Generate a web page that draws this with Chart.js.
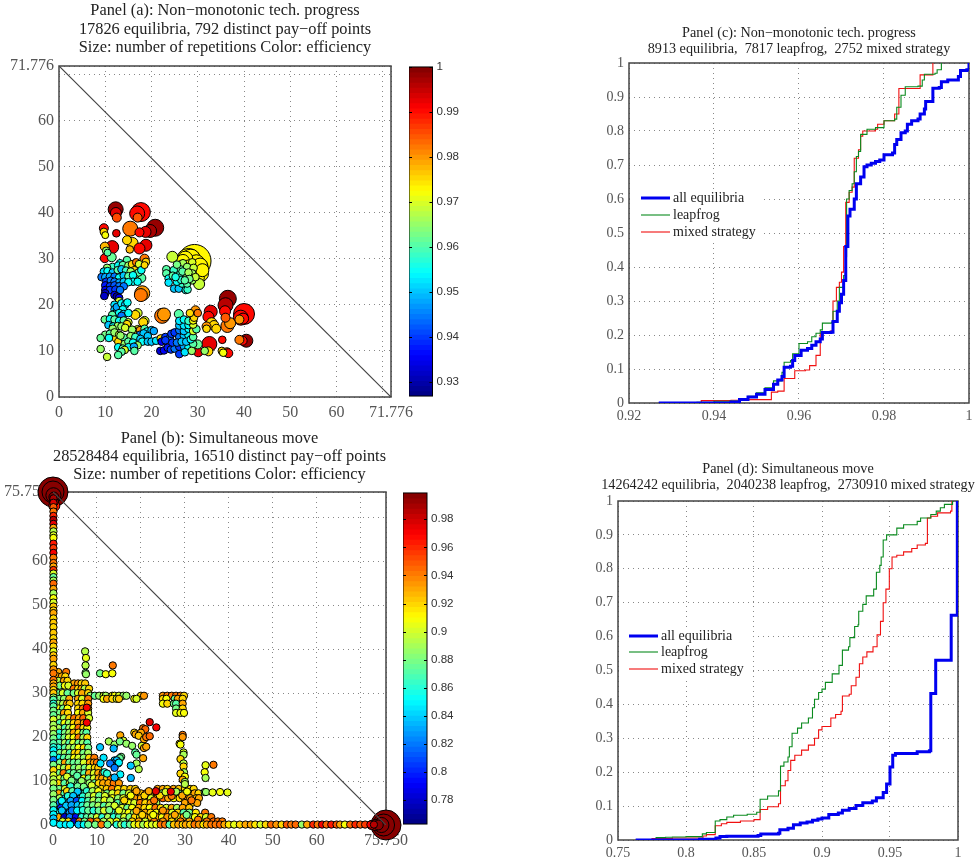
<!DOCTYPE html>
<html>
<head>
<meta charset="utf-8">
<title>Panels</title>
<script src="https://cdn.jsdelivr.net/npm/chart.js@4/dist/chart.umd.min.js"></script>
<style>
html, body { margin: 0; padding: 0; background: #fff; width: 977px; height: 860px; overflow: hidden; }
canvas { position: absolute; }
</style>
</head>
<body>
<script>
// panel (a): [payoff 1, payoff 2, repetitions, efficiency]
const aTopGroup = [
  [12.25,40.7,49,.998],[12.3,39.9,25,.993],[12.5,38.9,16,.986],[17.7,40.1,81,.99],[16.9,39.8,49,.99],[17,38.9,16,.985],
  [20.8,36.7,64,.998],[19.7,36,36,.997],[18.7,35.8,25,.993],[17.4,35.7,16,.99],[15.4,36.5,49,.982],[12.4,35.5,11,.992],
  [9.7,36.6,16,.99],[9.7,35.8,11,.975],[10,35.1,9,.972],[9.9,32.6,16,.978],[11.5,32.5,36,.993],[10.2,31.7,11,.965],
  [10.5,31.3,9,.96],[9.9,30.1,16,.99],[11.4,30.3,16,.962],[14.7,34,16,.975],[15.9,33.4,25,.975],[15.3,32,11,.978],
  [18.8,32.9,30,.993],[17.4,32.2,25,.99],[18.5,30,16,.982],[18.8,29.3,11,.975],[18.5,28.6,9,.975]
];
const aYellowGroup = [
  [29.3,29.5,256,.973],[28,29.5,144,.973],[27.5,29,100,.973],[30,28,100,.973],[30.5,26.8,64,.973],[29.8,25.9,49,.973],
  [28.5,30,81,.973],[29.7,29,64,.973],[30.5,28.5,49,.973],[31,27.5,36,.973],[27.3,30,49,.973],[26.8,29.5,36,.973],[28,28.3,36,.973],
  [27,28.7,64,.973],[26.5,28.2,36,.972],[24.5,30.4,25,.968],[30.3,24.5,25,.968],[26.8,29,11,.966],[28.8,29.2,11,.97],
  [27.7,28.2,11,.965],[29.1,28,11,.968],[23.2,27.7,11,.96],[23.2,26.8,11,.96],[23.7,25.7,11,.955],[23.7,24.8,11,.952],
  [24.9,23.5,11,.95],[25.9,23.5,11,.95],[27.4,23.2,11,.955],[27.8,23.3,11,.958],[26.2,27.7,11,.96],[27,26.8,11,.962],
  [27.7,26.1,11,.965],[28.8,26.8,11,.966],[25.9,26.4,11,.958],[26.6,24.6,11,.958],[27.7,24.6,11,.96],[28.8,25.3,11,.965],
  [29.5,26,11,.968],[25.5,25,11,.955],[24.8,27.5,11,.958],[24.6,26.3,11,.96],[25.5,28.7,11,.963],[26.7,27.2,11,.96],
  [28,27,11,.966],[26.4,25.4,11,.957],[28.2,25.6,11,.963],[27.2,25.3,11,.96],[25.2,26,11,.956]
];
const aLeftGroup = [
  [14.7,29.7,11,.96],[13.2,29,11,.955],[11.6,28.2,11,.958],[10.4,28,11,.965],[12.8,28.5,11,.955],[13.8,28.6,11,.96],
  [15,28.5,11,.965],[15.8,28.8,11,.975],[16.7,29.2,11,.982],[17.3,28.8,11,.97],[16.3,27.5,11,.975],[9.7,27.2,11,.953],
  [10.5,27.3,11,.955],[11.6,27,11,.95],[12.7,27.5,11,.96],[13.5,27.7,11,.95],[14.5,27.4,11,.958],[15.5,27.2,11,.965],
  [16.5,26.5,11,.965],[17.2,27,11,.96],[17.8,27.5,11,.955],[9.2,26,11,.945],[10,26,11,.948],[11,26.1,11,.948],
  [12,26.1,11,.945],[13,25.9,11,.955],[14,26.3,11,.95],[15,26.2,11,.96],[16,26.4,11,.955],[17.8,25.8,16,.96],
  [16,25,11,.955],[17,25,11,.955],[10.2,25,11,.94],[11.2,25.2,11,.945],[12,25,11,.945],[13,24.8,11,.948],[14,25,11,.95],
  [15,24.9,11,.955],[10,24.2,11,.938],[11,24,11,.94],[12,24.2,11,.942],[13,24,11,.945],[14,24,11,.945],[10,23.2,11,.935],
  [11,23.2,11,.94],[12.2,23.3,11,.94],[13.2,23.2,11,.945],[10,22.5,11,.932],[9.8,21.9,11,.932],[12,22.1,11,.935],
  [12.5,21.8,11,.93],[13,21.5,11,.935],[13,20.8,11,.97],[18,22.5,49,.98],[17.7,22.1,36,.982]
];
const aLowLeftGroup = [
  [12,20,11,.952],[12,19,11,.95],[12.5,19.5,11,.948],[13.5,20.3,11,.955],[14.3,20,11,.95],[14.8,20.5,11,.955],
  [13.8,19,11,.955],[12,18,11,.95],[13,18.2,11,.955],[14,18,11,.95],[15,18.2,11,.955],[11.5,17.8,11,.96],[13.5,17.6,11,.945],
  [17,18.2,16,.97],[16.5,17.8,16,.975],[9.9,16.8,11,.962],[11,16.9,11,.955],[12,16.8,11,.96],[13,16.5,11,.955],
  [14,16.6,11,.96],[15,16.2,11,.97],[14.7,15.8,11,.975],[18.5,16.5,16,.97],[18.2,16.2,16,.975],[10.7,15.6,11,.95],
  [11.7,15.3,11,.955],[12.7,15.4,11,.965],[13.5,15.3,11,.965],[14.3,15,11,.97],[11.6,14.8,11,.965],[17,14.7,11,.97],
  [16.5,14.2,11,.975],[17.5,14.5,11,.98],[15.8,14.6,11,.965],[18.5,14.8,11,.96],[19,14.2,11,.955],[20,14.5,11,.95],
  [20.5,14.3,11,.948],[17.5,13.5,11,.945],[18.3,13.8,11,.95],[19.2,13.2,11,.95],[10,13.5,11,.963],[11,13.7,11,.96],
  [12,14,11,.965],[13,13.5,11,.968],[14,12.9,11,.96],[15.5,13.2,11,.965],[16.5,13,11,.958],[17.6,12.6,11,.95],[18,12,11,.955],
  [19.2,12,11,.95],[20,12,11,.95],[21,12.2,11,.952],[9,12.8,11,.962],[10.8,12.8,11,.955],[12.5,12.7,16,.975],[13,12,16,.975],
  [13.3,13.3,11,.965],[14.2,11.5,11,.965],[15,12,11,.96],[16,11.8,11,.955],[17,11.2,11,.965],[12.8,10.8,11,.955],
  [13.8,10.5,11,.96],[15,10.8,11,.955],[16.2,10.9,11,.948],[14.2,10.2,11,.97],[16.3,10,11,.96],[13.5,9.8,11,.96],
  [12.8,9.1,11,.96],[9,10.4,11,.965],[10.4,8.7,11,.968]
];
const aLowRightGroup = [
  [22,12.7,11,.975],[23,13,11,.94],[24,12.8,11,.945],[22.2,12,11,.935],[23,12.3,11,.94],[24.3,13.7,11,.94],[25,14,11,.94],
  [26,13,11,.945],[27,13.3,11,.95],[28,13.4,11,.955],[21.9,10,11,.933],[22.7,10.1,11,.935],[23.5,10.7,11,.938],
  [24.2,10.3,11,.94],[25,10.5,11,.945],[26,10.9,11,.94],[27,11,11,.948],[28,10.8,11,.955],[29,11.5,11,.96],[26,9.3,11,.94],
  [27.2,9.7,11,.952],[28.7,10,11,.965],[24.5,11.8,11,.94],[25.5,11.8,11,.945],[26.5,12,11,.95],[27.5,12,11,.95],
  [28.5,12.5,11,.955],[29,13,11,.96],[26,14.5,11,.945],[27,14.3,11,.95],[28,14.8,11,.955],[29,14.3,11,.97],[29.7,14.7,11,.96],
  [26,15.5,11,.95],[27,15.5,11,.953],[28,15.6,11,.955],[29,15.7,11,.97],[26,16.5,11,.953],[27,16.8,11,.955],[28,16.5,11,.958],
  [29,16.6,11,.972],[29.2,17.2,11,.975],[25.9,18,16,.96],[28.3,18.2,11,.975],[29.5,18.8,16,.98],[30,18.2,11,.982],
  [22.3,17.6,49,.982],[22.7,17.9,36,.98]
];
const aRightGroup = [
  [32.8,18.5,36,.992],[32.3,17.4,25,.99],[36.5,21.3,64,.998],[36,19.9,49,.996],[35.9,18.6,25,.99],[36,17.2,16,.985],
  [36.4,15.4,36,.982],[37,16,25,.98],[40,18,100,.99],[39.3,17.2,49,.99],[39.8,17,25,.99],[39,16.8,16,.98],[33,16,25,.975],
  [33.5,15.5,20,.975],[31.9,15.3,16,.98],[31.9,14.8,11,.975],[34,14.8,16,.975],[35.3,12.4,11,.99],[40.5,12.2,36,.998],
  [39.7,12.2,16,.99],[39,12.4,16,.982],[32.5,11.5,49,.992],[30.1,9.8,20,.992],[30,11.4,16,.962],[31.5,10,11,.965],
  [32.3,9.9,16,.975],[35.2,10,11,.975],[35.5,9.6,11,.972],[36.3,9.7,16,.985],[36.6,9.5,16,.99]
];

// panel (b): points on the two axes, [position, efficiency]
const bLeftAxis = [
  [74.3,.99],[73.3,.98],[72.3,.95],[71.3,.94],[70.3,.96],[69.4,.985],[68.5,.975],[67.6,.93],[66.8,.895],[65.9,.9],[65.3,.91],
  [64,.965],[63,.955],[61.9,.97],[60.8,.94],[59.6,.94],[58.8,.93],[58,.955],[57.2,.9],[56.4,.875],[55.6,.89],[54.9,.945],[53.7,.93],
  [52.7,.89],[51.6,.91],[50.6,.9],[49.7,.925],[48.8,.92],[48.2,.93],[47,.92],[46,.925],[45,.92],[43.7,.925],[42.5,.92],[41.5,.93],
  [40.6,.92],[39.5,.905],[38.6,.925],[37.8,.93],[36.4,.92],[35.4,.935],[34.5,.94],[33,.94],[32.2,.93],[31.5,.93],[30.7,.92],[30,.925],
  [29,.89],[28.5,.87],[27.6,.86],[27,.87],[26,.88],[25,.875],[24,.9],[22.8,.89],[21.8,.895],[20.7,.885],[19.7,.88],[18.6,.87],
  [17.7,.86],[17,.85],[16,.86],[14.8,.82],[13.7,.88],[12.5,.92],[11.3,.9],[10.4,.895],[9.5,.895],[8.3,.88],[7,.885],[5.7,.88],
  [4.5,.87],[3.4,.855],[2.4,.85],[1.5,.84],[.5,.85]
];
const bBottomAxis = [
  [1.6,.85],[2.9,.85],[3.9,.85],[5.8,.84],[7,.855],[8,.875],[9.6,.88],[11,.94],[12.4,.875],[14.5,.86],[15.5,.89],[16.3,.86],
  [17.5,.875],[18.5,.905],[19.5,.915],[20.5,.89],[21.5,.91],[22.5,.9],[23.5,.905],[24.5,.94],[25.5,.94],[26.5,.87],[27.5,.925],
  [28.5,.93],[29.5,.92],[30.2,.93],[31.2,.925],[32.2,.94],[33.2,.935],[34.2,.915],[35,.93],[36,.94],[37,.94],[38,.945],
  [39,.93],[40,.915],[41.2,.905],[42.5,.92],[43.8,.93],[45,.93],[46,.915],[47.2,.9],[48.4,.92],[49.6,.945],[50.8,.935],
  [52,.92],[53.2,.95],[54.2,.94],[55.2,.945],[56.6,.885],[57.8,.93],[59.2,.96],[60.2,.94],[61.2,.97],[62.2,.945],[63.3,.965],
  [64.5,.95],[65.3,.93],[66.4,.91],[67.6,.945],[68.8,.96],[69.9,.95],[71,.955],[72.2,.97],[73,.985]
];
const bCornerPoints = [
  [0,75.75,210,.9987],[0,75.75,110,.9987],[.1,75,50,.9987],[.2,74.6,20,.9987],[.2,73.5,16,.99],[.3,72.6,25,.965],
  [75.75,0,210,.9987],[75.2,0,110,.9987],[74.7,0,50,.9987],[74,0,20,.9987],[73.3,0,25,.99],[72.4,0,16,.97]
];
// upper stray points and the small blocks away from the main mass
const bIslands = [
  [7.3,39.5,.895],[7.5,38,.905],[7.4,36.3,.895],[7.4,34.6,.88],[7.5,34.3,.885],[10.7,34.5,.88],[12,34.3,.91],[13.5,34.5,.91],[13.6,36.3,.94],
  [22,23.4,.975],[23.5,22.2,.97],[20.5,22,.94],[21,21.8,.945],[18.5,21,.92],[18.8,20.6,.93],[20,21,.93],[19.5,20.3,.925],[20.7,19.5,.93],
  [21.2,20,.94],[22,20.2,.945],[15.3,20.4,.93],[16,19.2,.9],[12.7,19,.89],[14,18.3,.885],[15.2,19,.88],[16.7,18.5,.885],[18,18,.885],
  [20.2,18,.9],[20.7,17.5,.93],[21.2,17.8,.93],[10.7,17.7,.84],[13.8,17.4,.835],[18.7,16.5,.87],[19,16,.875],[15.5,15.5,.88],[15,15,.88],
  [15.2,15.2,.875],[11.5,15.3,.845],[14,14.7,.84],[14.5,14.7,.84],[13.7,14,.82],[14.8,14,.83],[15,14.2,.85],[13,14,.82],[10.8,14,.845],
  [20.5,15.2,.93],[19,14,.89],[17.7,13.5,.84],[19.5,12.7,.895],[14,13,.82],[11.7,12,.86],[12.3,11.7,.86],[15.3,11.5,.85],[14,10.8,.835],[17.7,10.7,.835],
  [29.5,20.5,.94],[29.5,20,.935],[28.8,18.5,.915],[29,18.3,.91],[29.7,16.5,.9],[29.7,16,.89],[29,15,.92],[29.7,14,.895],[29.7,13.3,.92],
  [29.8,12,.89],[29,11.7,.92],[30,11,.91],[29.5,10.3,.93],[30,9.8,.89],[30,9.3,.895],[34.7,13.6,.905],[34.5,12,.91],[34.7,10.7,.89],[36.5,13.7,.94],
  [34.5,7.5,.88],[34.8,7.5,.885],[36.3,7.4,.905],[38,7.5,.91],[39.7,7.4,.905]
];
// main mass, row by row: [y, x, efficiency, x, efficiency, ...]
const bRows = [
  [34.8, 1.2,.93, 3,.94],
  [33.8, 1,.93, 2,.93, 2.8,.92],
  [32.8, 1.2,.895, 2.5,.93, 3.3,.92],
  [32.2, 4.8,.93, 5.7,.935, 6.5,.92, 7.3,.925],
  [31.7, 1.5,.88, 2.7,.91, 3.5,.9],
  [31, 4.7,.94, 5.7,.92, 6.5,.93, 7.2,.895, 8.2,.92],
  [30, 1.1,.875, 2.2,.9, 3.3,.875, 4.7,.88, 5.7,.9, 6.6,.93, 8,.92],
  [29.4, 8.5,.885, 9.5,.875, 10.5,.885, 11.5,.9, 12,.89, 13.5,.91, 14,.91, 15,.9, 16,.885, 16.7,.885, 20,.92, 20.7,.935, 25,.935, 26,.94, 27,.94, 28,.94, 29,.94, 29.8,.92],
  [28.7, 1.4,.88, 2.5,.885, 3.7,.93, 5.7,.93, 6.6,.9, 8,.94, 11.5,.91, 12.3,.93, 13.5,.92, 14.5,.9, 15,.925, 18.5,.91, 19,.9, 25,.92, 25.8,.91, 27.7,.875, 28.4,.93, 29.5,.92],
  [27.6, 1.2,.89, 2.3,.895, 3.2,.93, 3.8,.925, 5.7,.92, 6.7,.92, 8,.935, 25,.91, 26,.92, 27.5,.88, 28,.87, 29.5,.93],
  [26.5, 1.2,.91, 2.3,.88, 3.3,.91, 5.7,.92, 6.8,.94, 8,.92, 28,.88, 29.5,.92],
  [25.5, 1.3,.88, 2.5,.93, 3.4,.92, 5.7,.91, 6.8,.93, 8,.9, 28,.905, 29,.91, 29.8,.91],
  [24.3, 1.2,.89, 2.5,.89, 3.7,.92, 4.8,.94, 5.9,.93, 6.9,.945, 8.2,.9],
  [23.2, 1.5,.87, 2.6,.91, 3.6,.89, 4.7,.92, 5.7,.93, 7,.93],
  [22.1, 1.2,.89, 2.7,.87, 3.7,.89, 4.6,.91, 5.8,.945, 6.9,.92, 7.8,.91],
  [21, 1.4,.86, 2.7,.88, 3.7,.89, 4.7,.93, 5.8,.92, 6.9,.88, 7.6,.87],
  [19.9, 1.3,.86, 2.6,.88, 3.6,.9, 4.7,.91, 5.8,.94, 6.9,.89, 7.8,.92],
  [18.7, 1.4,.87, 2.7,.89, 3.7,.87, 4.6,.9, 5.8,.88, 6.8,.885, 7.8,.87],
  [17.6, 1.2,.86, 2.7,.87, 3.7,.89, 4.8,.885, 5.8,.91, 7,.92, 8,.88],
  [16.4, 1.5,.88, 2.7,.89, 3.8,.87, 4.9,.92, 5.8,.92, 6.9,.88, 8,.89],
  [15.3, 1.3,.85, 2.5,.87, 3.6,.88, 4.8,.91, 5.8,.9, 7,.885, 8.2,.92, 9.4,.94],
  [14.2, 1.5,.88, 2.7,.93, 3.7,.88, 4.7,.875, 5.8,.88, 7,.9, 8.4,.93, 9.3,.93, 10,.94],
  [13, 1.2,.9, 2.5,.89, 3.6,.92, 4.8,.88, 5.9,.89, 7.2,.88, 8.3,.9, 9.5,.92, 10.3,.925],
  [11.8, 1.3,.88, 2.4,.94, 3.7,.87, 4.7,.875, 6,.88, 7.1,.87, 8.2,.93, 9.3,.9, 10.3,.93, 11.3,.94],
  [10.6, 1.5,.9, 2.6,.88, 3.8,.875, 5,.9, 6,.87, 7,.91, 8.1,.88, 9.3,.9, 10.4,.93, 11.2,.93, 12.3,.92, 13.2,.94, 14.2,.93],
  [9.5, 1.2,.92, 2.6,.87, 3.8,.9, 5,.88, 6.1,.86, 7.2,.89, 8.3,.885, 9.4,.875, 10.4,.92, 11.4,.93, 12.6,.93, 13.8,.94, 15,.935],
  [8.2, 1.4,.88, 2.7,.9, 3.9,.85, 5,.87, 6.2,.86, 7.2,.88, 8.4,.91, 9.6,.89, 11,.92, 12.2,.925, 13.4,.94, 14.8,.92, 16.2,.92, 17.6,.925, 18.7,.92, 23.8,.93, 25,.93, 26,.92, 27.4,.93, 28.6,.925, 30,.92, 31.2,.92, 32,.92],
  [7.2, 1.3,.93, 2.6,.87, 3.7,.85, 5,.84, 6,.85, 7.2,.86, 8.5,.88, 9.7,.9, 11,.905, 12.3,.88, 13.5,.9, 14.8,.92, 16,.88, 17.3,.9, 18.6,.93, 20,.925, 21.2,.94, 22.4,.92, 23.6,.94, 24.8,.885, 26,.88, 27.4,.89, 28.6,.88, 30,.885, 31,.9, 32.2,.93, 33.1,.92],
  [6.1, 1.5,.89, 2.8,.84, 4,.85, 5.2,.82, 6.3,.84, 7.5,.87, 8.7,.9, 9.8,.89, 11.1,.87, 12.3,.91, 13.5,.91, 14.8,.885, 16,.905, 17.3,.92, 18.5,.935, 20,.93, 21,.925, 22.3,.9, 23.7,.93, 25,.945, 26.2,.93, 27.5,.91, 28.8,.92, 30,.94, 31.2,.93, 32.6,.925, 33.2,.93],
  [5, 1.3,.82, 2.2,.83, 3.5,.84, 4.7,.86, 6,.85, 7.2,.88, 8.5,.86, 9.7,.87, 11,.89, 12.2,.875, 13.5,.9, 14.7,.87, 16,.88, 17.2,.91, 18.5,.9, 19.8,.94, 21,.92, 22.2,.93, 23.5,.89, 30,.93, 31.5,.92, 32.8,.93],
  [3.9, 1.8,.8, 3.5,.81, 4.8,.84, 6,.87, 7.1,.85, 8.3,.87, 9.6,.89, 10.8,.86, 12,.88, 13.2,.9, 14.5,.875, 15.7,.9, 16.9,.88, 18,.91, 19.5,.93, 20.8,.92, 22,.91, 23.3,.94, 24.5,.92, 25.8,.9, 27,.93, 28.2,.89, 29.5,.93, 31,.925],
  [2.8, 1.2,.86, 2.5,.79, 3.8,.83, 5,.86, 6.2,.85, 7.5,.88, 8.7,.85, 9.9,.87, 11.1,.9, 12.4,.88, 13.6,.86, 14.8,.875, 16,.9, 17.2,.91, 18.4,.89, 19.6,.92, 21,.93, 22.2,.92, 23.5,.91, 24.8,.93, 26,.94, 27.1,.9, 28.4,.92, 29.7,.87, 31,.88, 32.5,.915, 34.6,.94],
  [1.8, 1.2,.93, 2.6,.78, 3.8,.82, 5.2,.79, 6.5,.86, 7.7,.87, 8.8,.88, 10,.9, 11.2,.86, 12.5,.89, 13.8,.86, 15,.87, 16.2,.9, 17.4,.88, 18.6,.92, 19.8,.91, 21,.93, 22.3,.925, 23.5,.93, 24.8,.91, 26,.935, 27.1,.92, 28.4,.91, 29.7,.93, 31,.88, 32.3,.91, 33.6,.92, 34.8,.9, 36,.94],
  [.8, 2.2,.9, 3.5,.92, 4.8,.78, 6,.94, 7.2,.88, 8.5,.95, 10,.93, 11.5,.89, 13,.9, 14.5,.91, 16,.89, 18,.92, 19.5,.93, 21,.9, 23,.94, 25,.935, 27,.92, 29,.94, 31,.93, 33,.92, 35,.94, 36.5,.945, 37.5,.94, 38.5,.94]
];
// overlapping dots in the darkest part of the mass, drawn on top of the rows
const bDense = [
  [3.2,11,.9],[4.2,10.1,.88],[5.5,11.2,.87],[6.5,10,.885],[4,8.8,.86],[5.6,8.8,.875],[7,8.7,.88],[8.8,9,.9],[3.2,7.7,.92],[4.4,7.7,.87],
  [5.6,7.6,.84],[7.7,7.7,.86],[9,7.7,.89],[10.3,7.7,.91],[3.4,6.6,.86],[4.6,6.6,.84],[6.8,6.5,.86],[8.1,6.6,.88],[9.3,6.6,.9],[10.5,6.7,.875],
  [11.8,6.6,.9],[2,5.5,.85],[4,5.5,.83],[5.4,5.5,.81],[6.6,5.5,.85],[8,5.5,.87],[9.2,5.6,.895],[10.4,5.5,.88],[11.7,5.6,.905],[13,5.6,.89],
  [3,4.4,.84],[4.2,4.5,.83],[5.6,4.5,.84],[6.7,4.4,.86],[7.8,4.5,.875],[9.1,4.5,.88],[10.3,4.4,.89],[11.6,4.4,.87],[12.8,4.4,.89],[14,4.4,.9],
  [2,3.3,.84],[4.3,3.3,.82],[5.5,3.3,.85],[6.8,3.4,.86],[8,3.3,.875],[9.2,3.3,.86],[10.4,3.3,.875],[11.6,3.3,.9],[12.8,3.4,.88],[15,3.3,.905],
  [16.2,5.6,.92],[17.7,6.7,.91],[19,7.7,.93],[20.8,6.7,.92],[21.8,7.7,.93],[23,5.6,.94],[24.3,6.7,.92],[25.6,7.5,.9],[27,6.6,.94],[28,7.6,.89],
  [29.4,6.7,.93],[30.5,7.6,.91],[31.5,5.6,.94],[19,3.2,.93],[20.3,2.3,.92],[22.8,2.3,.91],[25,3.3,.935],[27.7,2.3,.93],[30.4,2.3,.88],[33,1.2,.94]
];
// red dots printed over the rest
const bRedDots = [[7.7,26.7,.97],[7.7,23.3,.97],[23.4,7.7,.975],[26.8,7.6,.975]];

// panel (c): [efficiency, share] at each jump
const cAll = [
  [.927,0],[.944,.003],[.946,.01],[.948,.018],[.95,.026],[.952,.04],[.954,.055],[.955,.068],[.956,.078],[.9565,.105],[.958,.108],
  [.9585,.125],[.959,.14],[.9605,.155],[.962,.16],[.963,.17],[.964,.18],[.965,.188],[.9655,.207],[.9675,.208],[.968,.24],[.969,.27],
  [.9695,.295],[.97,.32],[.9705,.36],[.971,.46],[.9715,.55],[.972,.57],[.973,.6],[.9735,.645],[.9745,.665],[.9753,.695],[.976,.7],
  [.977,.705],[.978,.71],[.979,.715],[.98,.73],[.982,.735],[.9825,.76],[.983,.775],[.984,.795],[.985,.8],[.9855,.82],[.9865,.83],
  [.988,.835],[.9885,.85],[.9895,.865],[.9898,.887],[.9915,.926],[.993,.928],[.9935,.945],[.995,.95],[.9975,.96],[.998,.978],[.9995,.98],[1,1]
];
const cLeapfrog = [
  [.927,0],[.936,.002],[.94,.005],[.944,.006],[.946,.012],[.948,.02],[.95,.03],[.952,.045],[.954,.065],[.956,.09],[.9565,.12],[.958,.125],
  [.9585,.145],[.96,.175],[.962,.18],[.963,.195],[.964,.205],[.965,.215],[.9655,.235],[.9677,.238],[.968,.27],[.969,.3],[.9695,.34],
  [.9705,.375],[.971,.43],[.9712,.6],[.9718,.625],[.9725,.645],[.973,.68],[.9735,.725],[.974,.74],[.9745,.79],[.976,.805],[.978,.81],
  [.98,.83],[.9825,.835],[.983,.87],[.984,.905],[.985,.93],[.988,.932],[.989,.95],[.9895,.967],[.992,.97],[.9925,.98],[.9935,1]
];
const cMixed = [
  [.927,0],[.936,.001],[.937,.007],[.944,.008],[.946,.01],[.9525,.01],[.9535,.032],[.955,.035],[.9565,.072],[.959,.095],[.9615,.097],
  [.9625,.11],[.964,.14],[.965,.205],[.9655,.21],[.9675,.212],[.968,.3],[.9688,.34],[.9695,.355],[.97,.385],[.9705,.46],[.971,.59],
  [.9718,.62],[.9725,.635],[.973,.72],[.974,.745],[.9745,.785],[.975,.8],[.978,.805],[.9785,.82],[.98,.83],[.9825,.85],[.9835,.925],
  [.9885,.965],[.9915,1]
];
// panel (d)
const dAll = [
  [.763,0],[.81,.002],[.822,.006],[.825,.01],[.83,.011],[.853,.013],[.855,.018],[.868,.02],[.869,.03],[.875,.035],[.879,.045],[.884,.05],
  [.889,.053],[.893,.058],[.897,.062],[.9,.065],[.905,.075],[.912,.08],[.915,.088],[.92,.093],[.925,.102],[.93,.11],[.937,.115],[.94,.125],
  [.945,.14],[.9475,.165],[.95,.215],[.952,.25],[.954,.255],[.97,.26],[.979,.263],[.98,.432],[.9836,.53],[.995,.663],[.9995,1]
];
const dLeapfrog = [
  [.763,0],[.778,.007],[.785,.008],[.79,.009],[.8,.01],[.812,.018],[.815,.022],[.8215,.056],[.825,.06],[.83,.068],[.835,.073],[.845,.076],
  [.852,.082],[.8545,.12],[.86,.13],[.868,.145],[.8695,.218],[.872,.23],[.875,.245],[.876,.275],[.878,.315],[.882,.33],[.885,.345],[.89,.36],
  [.893,.39],[.8945,.415],[.8975,.435],[.9,.445],[.9025,.465],[.9075,.49],[.9125,.515],[.915,.56],[.9195,.57],[.9205,.597],[.924,.63],
  [.9265,.635],[.927,.675],[.93,.695],[.9325,.72],[.938,.74],[.94,.79],[.9425,.81],[.9435,.835],[.945,.885],[.9475,.9],[.955,.92],[.96,.93],
  [.97,.94],[.9725,.95],[.98,.96],[.984,.97],[.987,.98],[.99,.99],[.996,1]
];
const dMixed = [
  [.763,0],[.775,.004],[.79,.006],[.8125,.012],[.815,.016],[.8215,.042],[.826,.048],[.83,.052],[.84,.056],[.85,.06],[.8545,.09],[.86,.098],
  [.868,.107],[.8695,.16],[.873,.175],[.875,.205],[.877,.235],[.88,.25],[.885,.265],[.89,.28],[.8945,.3],[.8975,.325],[.9,.335],[.9065,.36],
  [.91,.37],[.914,.38],[.915,.425],[.92,.43],[.9215,.455],[.925,.48],[.9275,.52],[.93,.54],[.933,.555],[.9375,.57],[.9405,.605],[.943,.645],
  [.945,.7],[.947,.74],[.9495,.8],[.9515,.835],[.955,.84],[.96,.85],[.966,.86],[.97,.87],[.976,.875],[.9775,.95],[.98,.955],[.985,.965],
  [.9945,.97],[.9955,1]
];

const aMax = 71.776;
const bMax = 75.75;
const aTicks = [0,10,20,30,40,50,60,70,71.776];
const bTicks = [0,10,20,30,40,50,60,70,75.75];
const aBarTicks = [.93,.94,.95,.96,.97,.98,.99,1];
const bBarTicks = [.78,.8,.82,.84,.86,.88,.9,.92,.94,.96,.98];
const aEffRange = [.9268,1];
const bEffRange = [.763,.9987];
const shareTicks = [0,.1,.2,.3,.4,.5,.6,.7,.8,.9,1];
const cEffTicks = [.92,.94,.96,.98,1];
const dEffTicks = [.75,.8,.85,.9,.95,1];
const legendNames = ['all equilibria','leapfrog','mixed strategy'];

const SERIF = '"Liberation Serif", "Times New Roman", serif';
const BLUE = '#0000f0', GREEN = '#0a8a1e', RED = '#f01010';

// matlab jet with 64 bands
function jet(t) {
  const i = Math.min(63, Math.max(0, Math.floor(t * 64)));
  const v = (i + 0.5) / 64;
  const c = k => Math.round(255 * Math.min(1, Math.max(0, 1.5 - Math.abs(4 * v - k))));
  return 'rgb(' + c(3) + ',' + c(2) + ',' + c(1) + ')';
}

const plotFrame = {
  id: 'plotFrame',
  afterLayout(chart) {
    // titles may be wider than the plot, let them use the whole canvas
    chart.titleBlock.left = 0;
    chart.titleBlock.right = chart.width;
    chart.titleBlock.width = chart.width;
  },
  beforeDatasetsDraw(chart) {
    const a = chart.chartArea, ctx = chart.ctx;
    ctx.save();
    ctx.strokeStyle = '#444';
    ctx.lineWidth = 1.5;
    ctx.strokeRect(a.left, a.top, a.right - a.left, a.bottom - a.top);
    ctx.restore();
  }
};

const lineLegend = {
  id: 'lineLegend',
  beforeDatasetsDraw(chart, args, opts) {
    // the legend box hides the grid behind it
    const b = opts.box;
    chart.ctx.save();
    chart.ctx.fillStyle = '#fff';
    chart.ctx.fillRect(b[0], b[1], b[2], b[3]);
    chart.ctx.restore();
  },
  afterDraw(chart, args, opts) {
    const ctx = chart.ctx;
    ctx.save();
    ctx.font = '14px ' + SERIF;
    ctx.textBaseline = 'middle';
    ctx.fillStyle = '#222';
    opts.names.forEach((name, i) => {
      ctx.beginPath();
      ctx.moveTo(opts.x, opts.y[i]);
      ctx.lineTo(opts.x + 29, opts.y[i]);
      ctx.strokeStyle = opts.colors[i];
      ctx.lineWidth = opts.widths[i];
      ctx.stroke();
      ctx.fillText(name, opts.x + 32, opts.y[i]);
    });
    ctx.restore();
  }
};

const barTickMarks = {
  id: 'barTickMarks',
  afterDraw(chart) {
    const a = chart.chartArea, ctx = chart.ctx, y = chart.scales.y;
    ctx.save();
    ctx.strokeStyle = '#000';
    ctx.lineWidth = 1;
    ctx.strokeRect(a.left, a.top, a.right - a.left, a.bottom - a.top);
    y.ticks.forEach(t => {
      const p = Math.round(y.getPixelForValue(t.value)) + 0.5;
      ctx.beginPath();
      ctx.moveTo(a.left, p); ctx.lineTo(a.left + 3, p);
      ctx.moveTo(a.right, p); ctx.lineTo(a.right - 3, p);
      ctx.stroke();
    });
    ctx.restore();
  }
};

function makeCanvas(box) {
  const c = document.createElement('canvas');
  c.width = box.w;
  c.height = box.h;
  c.style.left = box.x + 'px';
  c.style.top = box.y + 'px';
  c.style.width = box.w + 'px';
  c.style.height = box.h + 'px';
  document.body.appendChild(c);
  return c;
}

function axisOptions(list, labelOf, fontSize, fixedSize, isX, min, max, gap) {
  return {
    type: 'linear',
    min: min,
    max: max,
    afterBuildTicks(s) { s.ticks = list.map(v => ({ value: v })); },
    afterFit(s) {
      if (isX) s.height = fixedSize; else s.width = fixedSize;
    },
    grid: { color: '#888', lineWidth: 1, drawTicks: false },
    border: { display: false, dash: [1, 4] },
    ticks: {
      autoSkip: false,
      maxRotation: 0,
      padding: isX ? gap : 5,
      color: '#555',
      font: { family: SERIF, size: fontSize },
      callback: labelOf
    }
  };
}

function titleOptions(lines, fontSize, spacing, topGap, plotGap) {
  return {
    display: true,
    fullSize: false,
    text: lines,
    color: '#222',
    font: { family: SERIF, size: fontSize, weight: 'normal', lineHeight: spacing / fontSize },
    padding: { top: topGap, bottom: plotGap - topGap - lines.length * spacing }
  };
}

function scatterPanel(box, plot, lines, fontSize, spacing, topGap, points, max, range, ticks, diag) {
  const sorted = points.slice().sort((p, q) => q[2] - p[2]);
  const label = v => (v === 70 ? '' : (v === max ? max.toFixed(3) : String(v)));
  new Chart(makeCanvas(box), {
    type: 'bubble',
    data: {
      datasets: [
        {
          type: 'line',
          data: diag.map(p => ({ x: p[0], y: p[1] })),
          borderColor: '#444',
          borderWidth: 1.2,
          pointRadius: 0,
          order: 0
        },
        {
          data: sorted.map(p => ({ x: p[0], y: p[1], r: Math.sqrt(p[2]) + 0.5 })),
          backgroundColor: sorted.map(p => jet((p[3] - range[0]) / (range[1] - range[0]))),
          borderColor: '#000',
          borderWidth: 1,
          clip: false,
          order: 1
        }
      ]
    },
    options: {
      responsive: false,
      animation: false,
      events: [],
      layout: { padding: { left: 0, top: 0, bottom: 0, right: box.x + box.w - plot.r } },
      plugins: {
        legend: { display: false },
        tooltip: { enabled: false },
        title: titleOptions(lines, fontSize, spacing, topGap, plot.t - box.y)
      },
      scales: {
        x: axisOptions(ticks, label, 16, box.y + box.h - plot.b, true, 0, max, 6),
        y: axisOptions(ticks, label, 16, plot.l - box.x, false, 0, max)
      }
    },
    plugins: [plotFrame]
  });
}

function colorBar(plot, range, ticks) {
  const box = { x: plot.l, y: plot.t - 10, w: 70, h: plot.b - plot.t + 20 };
  const sets = [];
  for (let i = 0; i < 64; i++) {
    const lo = range[0] + i * (range[1] - range[0]) / 64;
    sets.push({ data: [[lo, range[1]]], backgroundColor: jet((i + 0.5) / 64), grouped: false, barPercentage: 1, categoryPercentage: 1, borderWidth: 0, order: 64 - i });
  }
  new Chart(makeCanvas(box), {
    type: 'bar',
    data: { labels: [''], datasets: sets },
    options: {
      responsive: false,
      animation: false,
      events: [],
      layout: { padding: { top: 10, bottom: 10, left: 0, right: 0 } },
      plugins: { legend: { display: false }, tooltip: { enabled: false } },
      scales: {
        x: { display: false },
        y: {
          type: 'linear',
          position: 'right',
          min: range[0],
          max: range[1],
          afterBuildTicks(s) { s.ticks = ticks.map(v => ({ value: v })); },
          afterFit(s) { s.width = box.w - (plot.r - plot.l); },
          grid: { display: false, drawTicks: false },
          border: { display: false },
          ticks: {
            padding: 4,
            color: '#333',
            font: { family: '"Liberation Sans", Arial, sans-serif', size: 11.6 },
            callback: v => String(v)
          }
        }
      }
    },
    plugins: [barTickMarks]
  });
}

function cdfPanel(box, plot, lines, fontSize, spacing, topGap, series, xTicks, xMin, legend) {
  const colors = [BLUE, GREEN, RED];
  const widths = [3, 1.1, 1.1];
  new Chart(makeCanvas(box), {
    type: 'line',
    data: {
      datasets: series.map((s, i) => ({
        label: legendNames[i],
        data: s.map(p => ({ x: p[0], y: p[1] })),
        borderColor: colors[i],
        borderWidth: widths[i],
        pointRadius: 0,
        stepped: true
      }))
    },
    options: {
      responsive: false,
      animation: false,
      events: [],
      layout: { padding: { left: 0, top: 0, bottom: 0, right: box.x + box.w - plot.r } },
      plugins: {
        legend: { display: false },
        tooltip: { enabled: false },
        title: titleOptions(lines, fontSize, spacing, topGap, plot.t - box.y),
        lineLegend: {
          names: legendNames, colors: colors, widths: widths,
          x: legend.x - box.x, y: legend.y.map(v => v - box.y),
          box: [plot.l - box.x + 1, legend.y[0] - box.y - 9, legend.w, legend.y[2] - legend.y[0] + 18]
        }
      },
      scales: {
        x: axisOptions(xTicks, v => String(v), 14, box.y + box.h - plot.b, true, xMin, 1, 5),
        y: axisOptions(shareTicks, v => String(v), 14, plot.l - box.x, false, 0, 1)
      }
    },
    plugins: [plotFrame, lineLegend]
  });
}

const aPoints = [].concat(aTopGroup, aYellowGroup, aLeftGroup, aLowLeftGroup, aLowRightGroup, aRightGroup);

const bPoints = [];
bRows.forEach(row => {
  for (let i = 1; i < row.length; i += 2) bPoints.push([row[i], row[0], 10, row[i + 1]]);
});
bDense.forEach(p => bPoints.push([p[0], p[1], 10, p[2]]));
bIslands.forEach(p => bPoints.push([p[0], p[1], 10, p[2]]));
bLeftAxis.forEach(p => bPoints.push([.1, p[0], 10, p[1]]));
bBottomAxis.forEach(p => bPoints.push([p[0], .1, 10, p[1]]));
bRedDots.forEach(p => bPoints.push([p[0], p[1], 10, p[2]]));
bCornerPoints.forEach(p => bPoints.push(p));

scatterPanel({ x: 0, y: 0, w: 450, h: 430 }, { l: 59, r: 391, t: 66, b: 397 },
  ['Panel (a): Non\u2212monotonic tech. progress', '17826 equilibria, 792 distinct pay\u2212off points', 'Size: number of repetitions Color: efficiency'],
  16.35, 18.4, 2, aPoints, aMax, aEffRange, aTicks, [[0, aMax], [aMax, 0]]);
colorBar({ l: 408.5, r: 432, t: 66, b: 397 }, aEffRange, aBarTicks);

scatterPanel({ x: 0, y: 430, w: 439, h: 430 }, { l: 53, r: 386, t: 492, b: 825 },
  ['Panel (b): Simultaneous move', '28528484 equilibria, 16510 distinct pay\u2212off points', 'Size: number of repetitions Color: efficiency'],
  16.35, 18, 0, bPoints, bMax, bEffRange, bTicks, [[0, bMax], [bMax, 0]]);
colorBar({ l: 403, r: 427, t: 492, b: 825 }, bEffRange, bBarTicks);

cdfPanel({ x: 590, y: 20, w: 418, h: 410 }, { l: 629, r: 969, t: 63, b: 403 },
  ['Panel (c): Non\u2212monotonic tech. progress', '8913 equilibria,  7817 leapfrog,  2752 mixed strategy'],
  14.2, 16, 5, [cAll, cLeapfrog, cMixed], cEffTicks, .92, { x: 641, y: [198, 215, 232], w: 130 });

cdfPanel({ x: 590, y: 455, w: 396, h: 405 }, { l: 618, r: 958, t: 501, b: 840 },
  ['Panel (d): Simultaneous move', '14264242 equilibria,  2040238 leapfrog,  2730910 mixed strategy'],
  14.2, 16, 6, [dAll, dLeapfrog, dMixed], dEffTicks, .75, { x: 629, y: [636, 652, 669], w: 130 });
</script>
</body>
</html>
